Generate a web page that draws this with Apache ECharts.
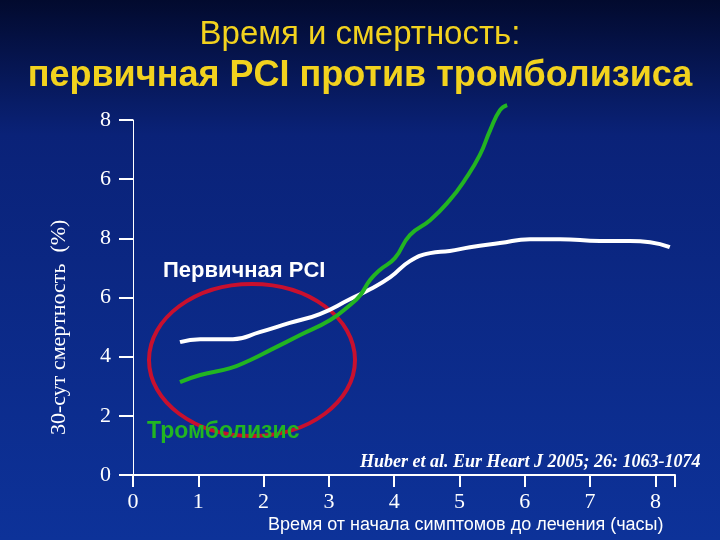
<!DOCTYPE html>
<html>
<head>
<meta charset="utf-8">
<script src="https://cdn.jsdelivr.net/npm/echarts@6/dist/echarts.min.js"></script>
<style>
html, body { margin: 0; padding: 0; }
#chart { width: 720px; height: 540px; }
</style>
</head>
<body>
<div id="chart"></div>
<script>
// данные кривых: [часы, значение на шкале графика]
var pciData = [
    [0.72, 4.49], [1.03, 4.59], [1.53, 4.59], [1.94, 4.83], [2.40, 5.14],
    [2.86, 5.44], [3.32, 5.94], [3.63, 6.28], [3.94, 6.69], [4.24, 7.23],
    [4.55, 7.50], [4.85, 7.57], [5.16, 7.70], [5.62, 7.84], [6.08, 7.97],
    [6.54, 7.97], [7.15, 7.91], [7.61, 7.91], [7.92, 7.87], [8.22, 7.70]
];
var lysisData = [
    [0.72, 3.14], [1.03, 3.38], [1.49, 3.61], [1.79, 3.88], [2.10, 4.22],
    [2.56, 4.73], [3.02, 5.24], [3.32, 5.74], [3.48, 6.08], [3.63, 6.59],
    [3.78, 6.93], [4.01, 7.33], [4.24, 8.11], [4.55, 8.61], [4.85, 9.29],
    [5.08, 9.97], [5.31, 10.81], [5.47, 11.66], [5.62, 12.33], [5.73, 12.50]
];
// подписи оси Y с разрывом шкалы
var yTickLabels = { 0: '0', 2: '2', 4: '4', 6: '6', 8: '8', 10: '6', 12: '8' };

var chart = echarts.init(document.getElementById('chart'));
var serif = 'Liberation Serif';
var sans = 'Liberation Sans';
chart.setOption({
    backgroundColor: {
        type: 'linear', x: 0, y: 0, x2: 0, y2: 1,
        colorStops: [
            { offset: 0, color: '#020a2e' },
            { offset: 0.25, color: '#0a2278' },
            { offset: 1, color: '#0d3299' }
        ]
    },
    animation: false,
    grid: { left: 133, right: 45, top: 120, bottom: 65 },
    xAxis: {
        type: 'value', min: 0, max: 8.3, interval: 1,
        axisLine: { show: true, onZero: false, lineStyle: { color: '#fff', width: 2 } },
        axisTick: { show: true, length: 12, lineStyle: { color: '#fff', width: 2 } },
        axisLabel: {
            color: '#fff', fontFamily: serif, fontSize: 22, margin: 16,
            formatter: function (v) { return v <= 8 ? String(v) : ''; }
        },
        splitLine: { show: false }
    },
    yAxis: {
        type: 'value', min: 0, max: 12, interval: 2,
        axisLine: { show: true, lineStyle: { color: '#fff', width: 1 } },
        axisTick: { show: true, length: 14, lineStyle: { color: '#fff', width: 2 } },
        axisLabel: {
            color: '#fff', fontFamily: serif, fontSize: 22, margin: 22,
            formatter: function (v) { return yTickLabels[v] || ''; }
        },
        splitLine: { show: false }
    },
    series: [{
        name: 'Первичная PCI', type: 'line', data: pciData, smooth: true, clip: false,
        showSymbol: false, lineStyle: { color: '#ffffff', width: 4 }
    }, {
        name: 'Тромболизис', type: 'line', data: lysisData, smooth: true, clip: false,
        showSymbol: false, lineStyle: { color: '#22b522', width: 4 }
    }],
    graphic: [
        { type: 'text', left: 'center', top: 18, style: {
            text: 'Время и смертность:', fill: '#f2d21e', font: '33px ' + sans } },
        { type: 'text', left: 'center', top: 58, style: {
            text: 'первичная PCI против тромболизиса', fill: '#f2d21e', font: 'bold 36px ' + sans } },
        { type: 'text', x: 48, y: 435, rotation: Math.PI / 2, style: {
            text: '30-сут смертность  (%)', fill: '#fff', font: '22px ' + serif } },
        { type: 'ellipse', shape: { cx: 252, cy: 360, rx: 103, ry: 76 },
          style: { fill: 'none', stroke: '#c8102e', lineWidth: 4 } },
        { type: 'text', x: 163, y: 260, style: {
            text: 'Первичная PCI', fill: '#fff', font: 'bold 22px ' + sans } },
        { type: 'text', x: 147, y: 420, style: {
            text: 'Тромболизис', fill: '#22b522', font: 'bold 23px ' + sans } },
        { type: 'text', x: 360, y: 453, style: {
            text: 'Huber et al. Eur Heart J 2005; 26: 1063-1074', fill: '#fff',
            font: 'italic bold 18px ' + serif } },
        { type: 'text', x: 268, y: 516, style: {
            text: 'Время от начала симптомов до лечения (часы)', fill: '#fff', font: '18px ' + sans } }
    ]
});
</script>
</body>
</html>
